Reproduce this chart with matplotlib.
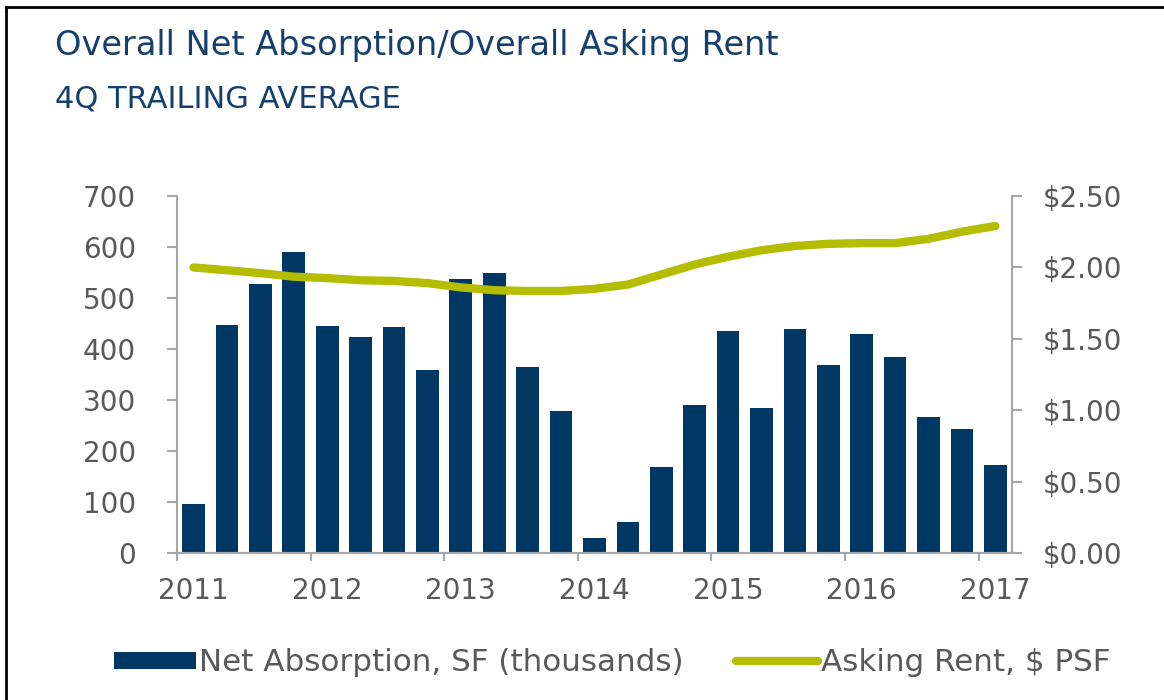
import matplotlib
matplotlib.use("Agg")
import matplotlib.pyplot as plt
from matplotlib.patches import Patch
from matplotlib.lines import Line2D
import numpy as np

# 4Q trailing average, quarterly from 2011 Q1 to 2017 Q1
quarters = list(range(25))
year_labels = ["2011", "2012", "2013", "2014", "2015", "2016", "2017"]
net_absorption = [97, 448, 527, 590, 445, 424, 444, 358, 537, 550, 364, 278, 29,
                  60, 169, 290, 436, 285, 439, 369, 429, 385, 266, 243, 173]
asking_rent = [2.00, 1.98, 1.96, 1.935, 1.925, 1.91, 1.905, 1.89, 1.86, 1.84, 1.835, 1.835, 1.85,
               1.88, 1.95, 2.02, 2.075, 2.12, 2.15, 2.165, 2.17, 2.17, 2.20, 2.25, 2.29]

navy = "#003865"
olive = "#b5bd00"
gray = "#595959"
axis_gray = "#a6a6a6"
title_blue = "#143f6e"

plt.rcParams["font.family"] = ["DejaVu Sans"]

fig = plt.figure(figsize=(11.64, 7.0), dpi=100)
ax = fig.add_axes([0.152, 0.21, 0.7174, 0.51])
ax2 = ax.twinx()

ax.bar(quarters, net_absorption, width=0.68, color=navy, zorder=2)
ax2.plot(quarters, asking_rent, color=olive, lw=6, solid_capstyle="round", zorder=3)

ax.set_xlim(-0.5, 24.5)
ax.set_ylim(0, 700)
ax.set_yticks(range(0, 701, 100))
ax2.set_ylim(0, 2.5)
ax2.set_yticks(np.arange(0, 2.51, 0.5))
ax2.set_yticklabels(["$%.2f" % v for v in np.arange(0, 2.51, 0.5)])

# year labels centred on the Q1 bar, tick marks on the category boundaries
ax.set_xticks(quarters[::4])
ax.set_xticklabels(year_labels)
ax.tick_params(axis="x", which="major", length=0, pad=17)
ax.set_xticks(np.arange(-0.5, 24.6, 4), minor=True)
ax.tick_params(axis="x", which="minor", length=6, width=1.5, color=axis_gray)

for a in (ax, ax2):
    a.spines["top"].set_visible(False)
    for s in ("left", "right", "bottom"):
        a.spines[s].set_color(axis_gray)
        a.spines[s].set_linewidth(1.5)
    a.tick_params(axis="y", length=7.5, width=1.5, color=axis_gray, labelsize=20,
                  labelcolor=gray)
ax.tick_params(axis="y", pad=22)
ax2.tick_params(axis="y", pad=14.5)
ax.tick_params(axis="x", labelsize=20, labelcolor=gray)
ax2.spines["left"].set_visible(False)
ax.spines["right"].set_visible(False)

fig.text(0.047, 0.921, "Overall Net Absorption/Overall Asking Rent", fontsize=24.2,
         color=title_blue, va="baseline")
fig.text(0.047, 0.847, "4Q TRAILING AVERAGE", fontsize=22, color=title_blue, va="baseline")

handles = [Patch(facecolor=navy, edgecolor="none"),
           Line2D([], [], color=olive, lw=6, solid_capstyle="round")]
fig.legend(handles, ["Net Absorption, SF (thousands)", "Asking Rent, $ PSF"],
           loc="center", bbox_to_anchor=(0.526, 0.053), ncol=2, frameon=False,
           fontsize=22.3, labelcolor=gray, handlelength=2.65, handleheight=0.5,
           handletextpad=0.1, columnspacing=1.7)

# frame lines at top and left edge
fig.add_artist(Line2D([0.005, 1.0], [0.99, 0.99], color="black", lw=2, transform=fig.transFigure))
fig.add_artist(Line2D([0.005, 0.005], [0.0, 0.99], color="black", lw=2, transform=fig.transFigure))

fig.savefig("out.png", dpi=100)
